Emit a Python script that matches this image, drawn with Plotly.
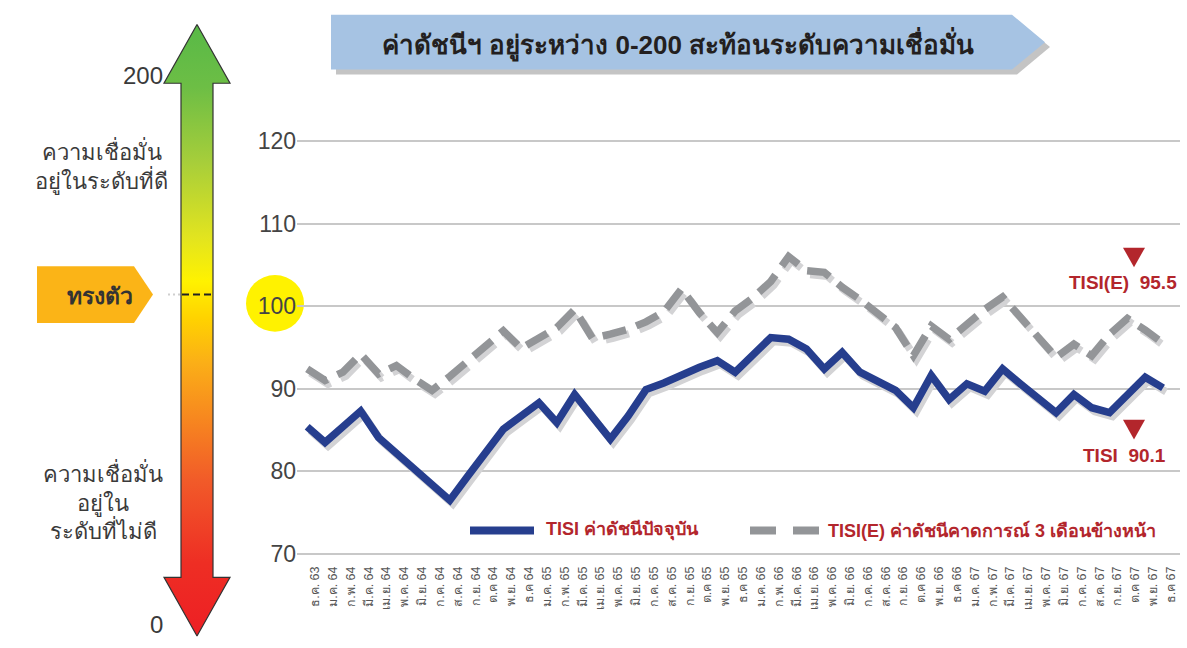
import plotly.graph_objects as go

W, H = 1187, 648

# ---------------- data ----------------
months = ["ธ.ค. 63",
          "ม.ค. 64", "ก.พ. 64", "มี.ค. 64", "เม.ย. 64", "พ.ค. 64", "มิ.ย. 64",
          "ก.ค. 64", "ส.ค. 64", "ก.ย. 64", "ต.ค 64", "พ.ย. 64", "ธ.ค 64",
          "ม.ค. 65", "ก.พ. 65", "มี.ค. 65", "เม.ย. 65", "พ.ค. 65", "มิ.ย. 65",
          "ก.ค. 65", "ส.ค. 65", "ก.ย. 65", "ต.ค 65", "พ.ย. 65", "ธ.ค 65",
          "ม.ค. 66", "ก.พ. 66", "มี.ค. 66", "เม.ย. 66", "พ.ค. 66", "มิ.ย. 66",
          "ก.ค. 66", "ส.ค. 66", "ก.ย. 66", "ต.ค 66", "พ.ย. 66", "ธ.ค 66",
          "ม.ค. 67", "ก.พ. 67", "มี.ค. 67", "เม.ย. 67", "พ.ค. 67", "มิ.ย. 67",
          "ก.ค. 67", "ส.ค. 67", "ก.ย. 67", "ต.ค 67", "พ.ย. 67", "ธ.ค 67"]

tisi = [85.4, 83.5, 85.4, 87.3, 84.1, 82.2, 80.3, 78.4, 76.5, 79.4, 82.2, 85.1,
        86.7, 88.3, 85.9, 89.3, 86.6, 83.9, 86.7, 89.9, 90.7, 91.7, 92.6, 93.4,
        92.0, 94.1, 96.2, 96.0, 94.8, 92.4, 94.4, 92.0, 91.0, 89.8, 87.7, 91.6,
        88.7, 90.6, 89.7, 92.4, 90.6, 88.8, 87.1, 89.3, 87.7, 87.1, 89.2, 91.4,
        90.1]

tisi_e = [92.4, 91.0, 92.0, 94.2, 91.8, 92.8, 91.2, 89.8, 91.5, 93.3, 95.1, 97.0,
          94.9, 96.2, 97.4, 99.6, 96.1, 96.6, 97.2, 98.1, 99.3, 102.1, 99.2, 96.8,
          99.4, 101.0, 103.0, 106.0, 104.3, 104.1, 102.3, 100.8, 99.1, 97.4, 94.0, 97.6,
          96.0, 97.9, 99.6, 101.1, 98.7, 96.3, 93.8, 95.4, 94.0, 96.6, 98.5, 97.1,
          95.5]

y_ticks = [70, 80, 90, 100, 110, 120]
series_names = ["TISI ค่าดัชนีปัจจุบัน", "TISI(E) ค่าดัชนีคาดการณ์ 3 เดือนข้างหน้า"]
last_labels = ["TISI  90.1", "TISI(E)  95.5"]
title_text = "ค่าดัชนีฯ อยู่ระหว่าง 0-200 สะท้อนระดับความเชื่อมั่น"
scale_top, scale_bottom, scale_mid = "200", "0", "ทรงตัว"
good_text = "ความเชื่อมั่น<br>อยู่ในระดับที่ดี"
bad_text = "ความเชื่อมั่น<br>อยู่ใน<br>ระดับที่ไม่ดี"

# ---------------- styles ----------------
BLUE = "#263E8E"
GRAY = "#939598"
SHADOW = "#D3D3D5"
RED = "#B3262C"
TXT = "#3a3a3a"
FONT = "Liberation Sans, Noto Sans, sans-serif"
NARROW = "Liberation Sans Narrow, Liberation Sans, sans-serif"
DASH = "24px,11px"
LABEL_SHIFT = 0.44
SHX, SHY = 0.17, 0.47

idx = list(range(len(months)))


def PX(x):
    return x / W


def PY(y):
    return 1 - y / H


fig = go.Figure()

# shadows + series lines
fig.add_trace(go.Scatter(x=[i + SHX for i in idx], y=[v - SHY for v in tisi_e], mode="lines",
                         line=dict(color=SHADOW, width=7.5, dash=DASH), hoverinfo="skip", showlegend=False))
fig.add_trace(go.Scatter(x=idx, y=tisi_e, mode="lines", name=series_names[1],
                         line=dict(color=GRAY, width=7.5, dash=DASH), showlegend=False))
fig.add_trace(go.Scatter(x=[i + SHX for i in idx], y=[v - SHY for v in tisi], mode="lines",
                         line=dict(color=SHADOW, width=7.5), hoverinfo="skip", showlegend=False))
fig.add_trace(go.Scatter(x=idx, y=tisi, mode="lines", name=series_names[0],
                         line=dict(color=BLUE, width=7.5), showlegend=False))

# gradient confidence arrow (drawn on pixel-space helper axes)
arrow_x = [197, 230, 213, 213, 230, 197, 164, 181, 181, 164, 197]
arrow_y = [20, 80, 80, 585, 585, 645, 585, 585, 80, 80, 20]
grad = [[0.0, "#ED1C24"], [0.14, "#EE2E24"], [0.27, "#F15A29"], [0.37, "#F7871F"],
        [0.46, "#FBAF17"], [0.53, "#FFD200"], [0.59, "#FFF200"], [0.66, "#E2E41F"],
        [0.78, "#A7CE3A"], [0.9, "#6DBE45"], [1.0, "#58B947"]]
fig.add_trace(go.Scatter(x=arrow_x, y=arrow_y, xaxis="x2", yaxis="y2", mode="lines",
                         fill="toself", fillgradient=dict(type="vertical", colorscale=grad, start=645, stop=20),
                         line=dict(color="#333333", width=1.2), hoverinfo="skip", showlegend=False))

shapes = []
annotations = []


def poly(pts):
    return "M " + " L ".join(f"{PX(x)},{PY(y)}" for x, y in pts) + " Z"


# title banner
banner = [(331, 10), (1012, 10), (1045, 38), (1012, 66), (331, 66)]
shapes.append(dict(type="path", xref="paper", yref="paper", path=poly([(x + 5, y + 5) for x, y in banner]),
                   fillcolor="#C4C4C4", line=dict(width=0), layer="above"))
shapes.append(dict(type="path", xref="paper", yref="paper", path=poly(banner),
                   fillcolor="#A6C3E3", line=dict(width=0), layer="above"))
annotations.append(dict(text=f"<b>{title_text}</b>", x=PX(678), y=PY(40), xref="paper", yref="paper",
                        showarrow=False, font=dict(family=FONT, size=26, color="#231F20"),
                        xanchor="center", yanchor="middle"))

# steady marker
steady = [(37, 267), (134, 267), (153, 296), (134, 325), (37, 325)]
shapes.append(dict(type="path", xref="paper", yref="paper", path=poly(steady),
                   fillcolor="#FBB417", line=dict(width=0), layer="above"))
annotations.append(dict(text=f"<b>{scale_mid}</b>", x=PX(100), y=PY(297), xref="paper", yref="paper",
                        showarrow=False, font=dict(family=FONT, size=23, color="#333333"),
                        xanchor="center", yanchor="middle"))
shapes.append(dict(type="line", xref="paper", yref="paper", x0=PX(168), x1=PX(180), y0=PY(296), y1=PY(296),
                   line=dict(color="#CFCFCF", width=2, dash="2px,3px"), layer="above"))
shapes.append(dict(type="line", xref="paper", yref="paper", x0=PX(182), x1=PX(213), y0=PY(296), y1=PY(296),
                   line=dict(color="#222222", width=2, dash="7px,4px"), layer="above"))

# scale texts
annotations.append(dict(text=scale_top, x=PX(165), y=PY(72), xref="paper", yref="paper", showarrow=False,
                        font=dict(family=FONT, size=24, color=TXT), xanchor="right", yanchor="middle"))
annotations.append(dict(text=scale_bottom, x=PX(156), y=PY(633), xref="paper", yref="paper", showarrow=False,
                        font=dict(family=FONT, size=24, color=TXT), xanchor="center", yanchor="middle"))
annotations.append(dict(text=good_text, x=PX(101), y=PY(165), xref="paper", yref="paper", showarrow=False,
                        font=dict(family=FONT, size=22, color=TXT), xanchor="center", yanchor="middle", align="center"))
annotations.append(dict(text=bad_text, x=PX(103), y=PY(507), xref="paper", yref="paper", showarrow=False,
                        font=dict(family=FONT, size=22, color=TXT), xanchor="center", yanchor="middle", align="center"))

# yellow circle behind the 100 tick
shapes.append(dict(type="circle", xref="paper", yref="paper", x0=PX(246), x1=PX(304), y0=PY(334), y1=PY(276),
                   fillcolor="#FFF200", line=dict(width=0), layer="below"))


# latest-value markers
def tri(cx, top, w=22, h=20):
    return poly([(cx - w / 2, top), (cx + w / 2, top), (cx, top + h)])


shapes.append(dict(type="path", xref="paper", yref="paper", path=tri(1134, 248), fillcolor=RED,
                   line=dict(width=0), layer="above"))
shapes.append(dict(type="path", xref="paper", yref="paper", path=tri(1134, 424), fillcolor=RED,
                   line=dict(width=0), layer="above"))
annotations.append(dict(text=f"<b>{last_labels[1]}</b>", x=PX(1179), y=PY(284), xref="paper", yref="paper",
                        showarrow=False, font=dict(family=NARROW, size=19, color=RED), xanchor="right", yanchor="middle"))
annotations.append(dict(text=f"<b>{last_labels[0]}</b>", x=PX(1124), y=PY(460), xref="paper", yref="paper",
                        showarrow=False, font=dict(family=NARROW, size=19, color=RED), xanchor="center", yanchor="middle"))

# custom legend
shapes.append(dict(type="line", xref="paper", yref="paper", x0=PX(470), x1=PX(534), y0=PY(537), y1=PY(537),
                   line=dict(color=BLUE, width=8), layer="above"))
shapes.append(dict(type="line", xref="paper", yref="paper", x0=PX(750), x1=PX(820), y0=PY(537), y1=PY(537),
                   line=dict(color=GRAY, width=8, dash="26px,17px"), layer="above"))
annotations.append(dict(text=f"<b>{series_names[0]}</b>", x=PX(544), y=PY(537), xref="paper", yref="paper",
                        showarrow=False, font=dict(family=NARROW, size=18, color=RED), xanchor="left", yanchor="middle"))
annotations.append(dict(text=f"<b>{series_names[1]}</b>", x=PX(826), y=PY(537), xref="paper", yref="paper",
                        showarrow=False, font=dict(family=NARROW, size=18, color=RED), xanchor="left", yanchor="middle"))

# ---------------- layout ----------------
px_per_unit_y = (561 - 139) / 50.0
y_lo, y_hi = 69.5, 121.0
dom_y0 = PY(561 + (70 - y_lo) * px_per_unit_y)
dom_y1 = PY(139 - (y_hi - 120) * px_per_unit_y)
step_x = 17.83
x_lo = -(307.2 - 297) / step_x
x_hi = (len(months) - 1) + (1180 - (307.2 + step_x * (len(months) - 1))) / step_x

fig.update_layout(
    width=W, height=H,
    margin=dict(l=0, r=0, t=0, b=0),
    paper_bgcolor="white", plot_bgcolor="rgba(0,0,0,0)",
    showlegend=False,
    shapes=shapes, annotations=annotations,
    xaxis=dict(domain=[PX(297), PX(1180)], range=[x_lo, x_hi], showgrid=False, zeroline=False,
               showline=False, tickmode="array", tickvals=[i + LABEL_SHIFT for i in idx], ticktext=months,
               tickangle=-90, tickfont=dict(family=FONT, size=12.5, color="#555555"), ticks="",
               ticklabelstandoff=5, fixedrange=True),
    yaxis=dict(domain=[dom_y0, dom_y1], range=[y_lo, y_hi], tickvals=y_ticks, showgrid=True,
               gridcolor="#C8C8C8", gridwidth=1.5, zeroline=False, showline=False, ticks="",
               tickfont=dict(family=FONT, size=23, color="#444444"), ticklabelstandoff=0, fixedrange=True),
    xaxis2=dict(domain=[0, 1], range=[0, W], visible=False, anchor="y2", fixedrange=True),
    yaxis2=dict(domain=[0, 1], range=[H, 0], visible=False, anchor="x2", fixedrange=True),
)

page_fix = (
    "var b=document.body;b.style.margin='0';b.style.padding='0';b.style.background='white';"
    "var gd=document.getElementById('{plot_id}');"
    "gd.style.position='fixed';gd.style.top='0px';gd.style.left='0px';"
)

fig.write_html("out.html", config=dict(displayModeBar=False), post_script=page_fix)
